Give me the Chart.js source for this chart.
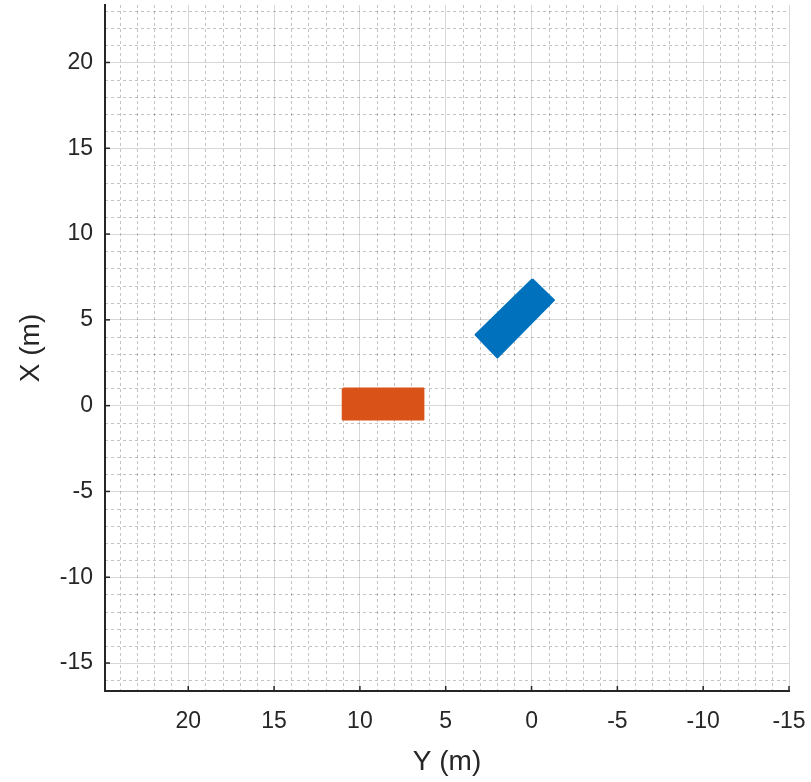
<!DOCTYPE html>
<html>
<head>
<meta charset="utf-8">
<script src="https://cdn.jsdelivr.net/npm/chart.js@4.4.1/dist/chart.umd.min.js"></script>
<style>
  html, body { margin: 0; padding: 0; background: #fff; }
  canvas { display: block; }
</style>
</head>
<body>
<canvas id="chart" width="811" height="782"></canvas>
<script>
// horizontal axis is Y (m), drawn reversed; vertical axis is X (m)
const yLimits = [-15, 24.85];
const xLimits = [-16.63, 23.35];
const yTicks = [20, 15, 10, 5, 0, -5, -10, -15];
const xTicks = [20, 15, 10, 5, 0, -5, -10, -15];
const majorStep = 5;
const minorStep = 1;

// vehicle footprints, corners as [Y, X] in metres
const egoCorners = [[11.0, 1.0], [6.3, 1.0], [6.3, -0.8], [11.0, -0.8]];
const targetCorners = [[-0.05, 7.37], [-1.31, 6.15], [1.99, 2.81], [3.26, 4.13]];

const axisColor = "#262626";
const fontFamily = "'Liberation Sans', Arial, Helvetica, sans-serif";

function toPoints(corners) {
    const pts = corners.map(([y, x]) => ({ x: y, y: x }));
    pts.push(pts[0]); // close the outline
    return pts;
}

function footprint(label, corners, color) {
    return {
        label,
        data: toPoints(corners),
        showLine: true,
        fill: "shape",
        backgroundColor: color,
        borderColor: color,
        borderWidth: 2,
        borderJoinStyle: "round",
        pointRadius: 0,
        tension: 0,
    };
}

// dotted minor grid + inward major tick marks (MATLAB look)
const minorGrid = {
    id: "minorGrid",
    beforeDatasetsDraw(chart) {
        const { ctx, chartArea: a, scales: { x, y } } = chart;
        ctx.save();
        ctx.strokeStyle = "rgba(38,38,38,0.28)";
        ctx.lineWidth = 1;
        ctx.setLineDash([3, 3]);
        for (let v = Math.ceil(x.min); v <= x.max; v += minorStep) {
            if (v % majorStep === 0) continue;
            const px = Math.round(x.getPixelForValue(v)) + 0.5;
            ctx.beginPath();
            ctx.moveTo(px, a.top);
            ctx.lineTo(px, a.bottom);
            ctx.stroke();
        }
        for (let v = Math.ceil(y.min); v <= y.max; v += minorStep) {
            if (v % majorStep === 0) continue;
            const py = Math.round(y.getPixelForValue(v)) + 0.5;
            ctx.beginPath();
            ctx.moveTo(a.left, py);
            ctx.lineTo(a.right, py);
            ctx.stroke();
        }
        ctx.setLineDash([]);
        ctx.strokeStyle = axisColor;
        ctx.lineWidth = 1.5;
        x.ticks.forEach((t) => {
            const px = x.getPixelForValue(t.value);
            ctx.beginPath();
            ctx.moveTo(px, a.bottom);
            ctx.lineTo(px, a.bottom - 5);
            ctx.stroke();
        });
        y.ticks.forEach((t) => {
            const py = y.getPixelForValue(t.value);
            ctx.beginPath();
            ctx.moveTo(a.left, py);
            ctx.lineTo(a.left + 5, py);
            ctx.stroke();
        });
        ctx.restore();
    },
};

new Chart(document.getElementById("chart"), {
    type: "scatter",
    data: {
        datasets: [
            footprint("ego", egoCorners, "#D95319"),
            footprint("target", targetCorners, "#0072BD"),
        ],
    },
    options: {
        responsive: false,
        animation: false,
        layout: { padding: { top: 5, right: 22, left: 0, bottom: 0 } },
        plugins: { legend: { display: false }, tooltip: { enabled: false } },
        scales: {
            x: {
                type: "linear",
                reverse: true,
                min: yLimits[0],
                max: yLimits[1],
                afterBuildTicks: (s) => { s.ticks = yTicks.map((v) => ({ value: v })); },
                afterFit: (s) => {
                    s.height = 91;
                    s.paddingLeft = 0;
                    s.paddingRight = 0;
                },
                ticks: {
                    color: axisColor,
                    padding: 17,
                    maxRotation: 0,
                    font: { family: fontFamily, size: 23 },
                },
                grid: { color: "rgba(38,38,38,0.18)", drawTicks: false },
                border: { color: axisColor, width: 2 },
                title: {
                    display: true,
                    text: "Y (m)",
                    color: axisColor,
                    font: { family: fontFamily, size: 28 },
                    padding: { top: 0, bottom: 3 },
                },
            },
            y: {
                type: "linear",
                min: xLimits[0],
                max: xLimits[1],
                afterBuildTicks: (s) => { s.ticks = xTicks.map((v) => ({ value: v })); },
                afterFit: (s) => {
                    s.width = 105;
                    s.paddingTop = 0;
                    s.paddingBottom = 0;
                },
                ticks: {
                    color: axisColor,
                    padding: 12,
                    font: { family: fontFamily, size: 23 },
                },
                grid: { color: "rgba(38,38,38,0.18)", drawTicks: false },
                border: { color: axisColor, width: 2 },
                title: {
                    display: true,
                    text: "X (m)",
                    color: axisColor,
                    font: { family: fontFamily, size: 28 },
                    padding: { top: 14, bottom: 0 },
                },
            },
        },
    },
    plugins: [minorGrid],
});
</script>
</body>
</html>
